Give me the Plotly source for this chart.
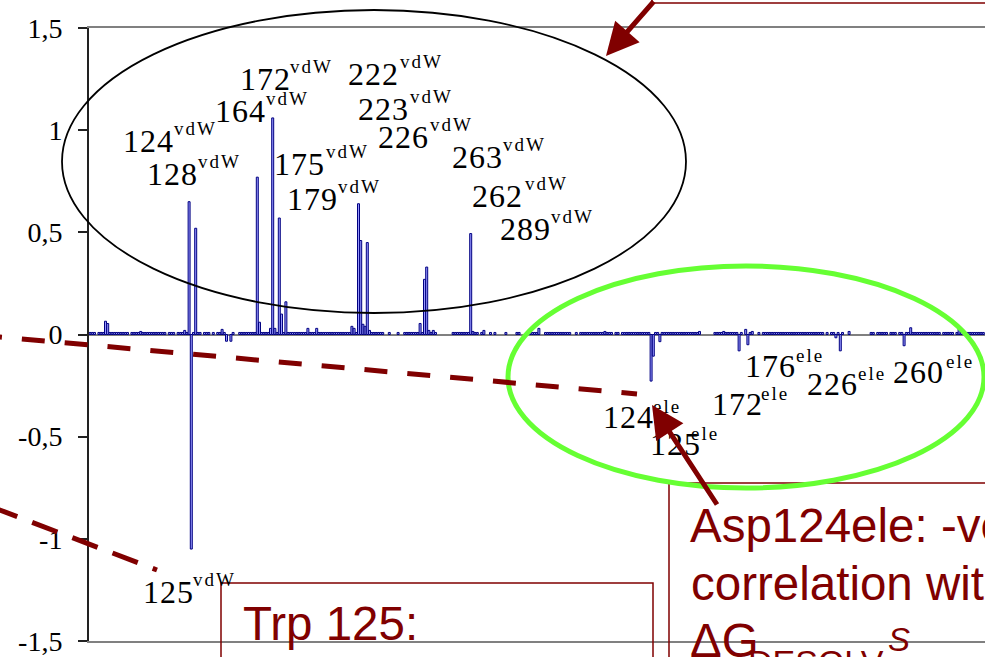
import plotly.graph_objects as go

# ------------------------------------------------------------------
# DATA : per-residue energy contributions (vdW block, then ele block)
# one value per slot along the x axis (0 = no bar drawn)
# ------------------------------------------------------------------
values = [
    0.01, 0.01, 0.01, 0, 0.01, 0.01, 0.01, 0.065, 0.054, 0.01, 0.01, 0.01, 0.01, 0.01, 0.01, 0.01, 0.01, 0.01, 0, 0.01,
    0.01, 0.01, 0.01, 0.015, 0.01, 0.01, 0.01, 0.01, 0.01, 0.01, 0.01, 0.01, 0.01, 0.01, 0.01, 0, 0.01, 0.01, 0.01, 0,
    0.01, 0.01, 0.01, 0.02, 0.01, 0.65, -1.05, 0.01, 0.52, 0.01, 0.01, 0, 0.01, 0.01, 0.01, 0, 0.01, 0, 0.01, 0.01,
    0.025, 0.01, -0.033, 0, -0.033, 0.01, 0, 0, 0.01, 0.01, 0.01, 0.01, 0.01, 0.01, 0.01, 0.01, 0.77, 0.06, 0.01, 0.01,
    0.01, 0.01, 0.03, 1.06, 0.03, 0.01, 0.57, 0.10, 0.01, 0.16, 0.01, 0.01, 0.01, 0.01, 0.01, 0.01, 0.01, 0.01, 0.01, 0.03,
    0.01, 0.01, 0.01, 0.03, 0.01, 0.01, 0.01, 0.01, 0.01, 0.01, 0.01, 0.01, 0.01, 0.01, 0.01, 0.01, 0.01, 0.01, 0.01, 0.04,
    0.03, 0.01, 0.64, 0.46, 0.05, 0.04, 0.45, 0.02, 0.01, 0.01, 0.01, 0.01, 0.01, 0.01, 0, 0, 0.01, 0, 0, 0,
    0.01, 0, 0, 0.01, 0.01, 0.01, 0.01, 0.01, 0.01, 0.01, 0.054, 0.01, 0.27, 0.33, 0.02, 0.01, 0.02, 0.01, 0, 0,
    0, 0, 0, 0, 0, 0.01, 0.01, 0.01, 0.01, 0.01, 0.01, 0.01, 0.01, 0.494, 0.015, 0.01, 0.01, 0, 0.01, 0.02,
    0, 0, 0.01, 0, 0.01, 0, 0, 0, 0, 0.01, 0, 0, 0, 0, 0.01, 0.01, 0, 0, 0, 0.01,
    0.01, 0.01, 0.01, 0.01, 0.03, 0, 0, 0.01, 0.01, 0.01, 0.01, 0.01, 0.01, 0.01, 0.01, 0.01, 0.01, 0.01, 0.01, 0,
    0, 0.01, 0, 0.01, 0.01, 0.01, 0.01, 0.01, 0.01, 0.01, 0.01, 0.01, 0.01, 0.01, 0.015, 0.01, 0.01, 0.01, 0, 0.01,
    0.01, 0, 0.01, 0.01, 0.01, 0.01, 0.01, 0.01, 0.01, 0.01, 0.01, 0.01, 0.01, 0.01, 0.01, -0.228, -0.106, 0.01, 0.01, -0.035,
    0.01, 0.01, 0.01, 0.01, 0.01, 0.01, 0.01, 0.01, 0.01, 0.01, 0.01, 0.01, 0.01, 0.01, 0.01, 0.01, 0.01, 0.015, 0, 0,
    0, 0, 0, 0, 0.01, 0.01, 0.01, 0.01, 0.015, 0.01, 0.01, 0.01, 0.01, 0.01, 0.01, -0.08, 0.01, 0, 0.025, -0.05,
    0.01, 0.015, 0, 0, 0.01, 0, 0.01, 0.01, 0.01, 0.01, 0.01, 0.01, 0.01, 0.01, 0.01, 0.01, 0.01, 0.01, 0.01, 0.01,
    0.01, 0.01, 0.01, 0.01, 0.01, 0.01, 0.01, 0.01, 0.01, 0.01, 0.01, 0.01, 0.01, 0.01, 0, 0.01, 0, 0.01, 0.01, -0.016,
    0.01, -0.08, 0.01, 0, 0, 0.015, 0, 0, 0, 0, 0, 0, 0, 0, 0, 0.01, 0.01, 0, 0.01, 0.01,
    0.01, 0.01, 0.01, 0, 0.01, 0.01, 0.01, 0, 0.01, 0.01, -0.055, 0.01, 0.01, 0.033, 0.01, 0.01, 0.01, 0.01, 0.01, 0.01,
    0.01, 0.01, 0.01, 0.01, 0.01, 0.01, 0.01, 0, 0.01, 0.01, 0.01, 0.01, 0.01, 0, 0.01, 0.033, 0.01, 0.01, 0.01, 0.01,
    0.01, 0.01, 0.01, 0.01, 0.01, 0.01, 0.01,
]
slots = list(range(len(values)))

y_tickvals = [-1.5, -1, -0.5, 0, 0.5, 1, 1.5]
y_ticktext = ["-1,5", "-1", "-0,5", "0", "0,5", "1", "1,5"]

vdw_label_texts = ["124", "128", "172", "164", "175", "179", "222", "223", "226", "263", "262", "289", "125"]
ele_label_texts = ["124", "125", "172", "176", "226", "260"]

# ------------------------------------------------------------------
# LAYOUT helpers (pixel -> paper)
# ------------------------------------------------------------------
W, H = 985, 657
ML, MR, MT, MB = 89, 0, 28, 16
PW, PH = W - ML - MR, H - MT - MB
SLOT_PX = 2.2


def X(px):
    return (px - ML) / PW


def Y(py):
    return (H - MB - py) / PH


DARKRED = "#800000"
SERIF = "Liberation Serif"
SANS = "Liberation Sans"

fig = go.Figure()
fig.add_trace(go.Bar(
    x=slots,
    y=[v if v != 0 else None for v in values],
    width=0.9,
    marker=dict(color="#9999FF", line=dict(color="#000080", width=1)),
    hoverinfo="skip",
))

fig.update_layout(
    width=W, height=H,
    margin=dict(l=ML, r=MR, t=MT, b=MB, pad=0),
    plot_bgcolor="white", paper_bgcolor="white",
    showlegend=False,
    xaxis=dict(range=[-0.5, -0.5 + PW / SLOT_PX], showticklabels=False, ticks="",
               showgrid=False, zeroline=False, showline=True, mirror=True,
               linecolor="#808080", linewidth=1.5),
    yaxis=dict(range=[-1.5, 1.5], tickvals=y_tickvals, ticktext=y_ticktext,
               ticks="outside", ticklen=9, tickwidth=1.5, tickcolor="#222222",
               ticklabelstandoff=10,
               tickfont=dict(family=SERIF, size=28, color="black"),
               showgrid=False, zeroline=True, zerolinecolor="#808080", zerolinewidth=1.5,
               showline=True, linecolor="#222222", linewidth=2),
)

# ------------------------------------------------------------------
# shapes: boxes, ellipses, dashed leader lines
# ------------------------------------------------------------------
def rect(x0, y0, x1, y1, color, width):
    fig.add_shape(type="rect", xref="paper", yref="paper",
                  x0=X(x0), x1=X(x1), y0=Y(y1), y1=Y(y0),
                  line=dict(color=color, width=width), fillcolor="rgba(0,0,0,0)")


def ellipse(x0, y0, x1, y1, color, width):
    fig.add_shape(type="circle", xref="paper", yref="paper",
                  x0=X(x0), x1=X(x1), y0=Y(y1), y1=Y(y0),
                  line=dict(color=color, width=width))


def seg(x0, y0, x1, y1, color, width, dash):
    fig.add_shape(type="line", xref="paper", yref="paper",
                  x0=X(x0), y0=Y(y0), x1=X(x1), y1=Y(y1),
                  line=dict(color=color, width=width, dash=dash))


rect(652, -60, 1010, 3, DARKRED, 1.5)          # top-right box
rect(221, 583, 653, 720, DARKRED, 1.5)         # Trp 125 box
rect(669, 483, 1010, 720, DARKRED, 1.5)        # Asp124ele box
ellipse(62, 10, 686, 313, "black", 1.8)        # vdW ellipse
ellipse(508, 266, 984, 488, "#66FF33", 5)      # ele ellipse
seg(-21, 335.1, 637, 394, DARKRED, 5, "23px,20px")
seg(-8, 507, 157, 570, DARKRED, 5, "27px,16px")


# ------------------------------------------------------------------
# text labels
# ------------------------------------------------------------------
def text_at(txt, x_left, baseline, size, family, color="black", asc=0.891):
    fig.add_annotation(xref="paper", yref="paper", x=X(x_left), y=Y(baseline - asc * size),
                       xanchor="left", yanchor="top", text=txt, showarrow=False,
                       borderpad=0, borderwidth=0,
                       font=dict(family=family, size=size, color=color))


vdw_pos = [(123, 152, 176), (147, 185, 200), (240, 90, 292), (215, 122, 268), (274, 175, 328),
           (287, 210, 340), (348, 85, 402), (358, 120, 412), (378, 148, 432), (452, 168, 505),
           (472, 207, 527), (500, 240, 553), (143, 603, 195)]
ele_pos = [(603, 428, 655), (650, 455, 693), (712, 415, 763), (745, 377, 798),
           (807, 395, 860), (893, 383, 948)]

for t, (xl, bl, xs) in zip(vdw_label_texts, vdw_pos):
    text_at('<span style="letter-spacing:1px">' + t + '</span>', xl, bl, 32, SERIF)
    text_at('<span style="letter-spacing:2px">vdW</span>', xs - 2, bl - 17, 19, SERIF)
for t, (xl, bl, xs) in zip(ele_label_texts, ele_pos):
    text_at('<span style="letter-spacing:1px">' + t + '</span>', xl, bl, 32, SERIF)
    text_at('<span style="letter-spacing:2px">ele</span>', xs - 2, bl - 15, 19, SERIF)

text_at("Trp 125:", 243, 640, 47.5, SANS, DARKRED, 0.905)
text_at("Asp124ele: -ve", 690, 542, 47.5, SANS, DARKRED, 0.905)
text_at("correlation with", 691, 600, 47.5, SANS, DARKRED, 0.905)
text_at("ΔG", 690, 657, 47.5, SANS, DARKRED, 0.905)
text_at("DESOLV", 748, 674, 34, SANS, DARKRED, 0.905)
text_at("<i>S</i>", 888, 651, 33, SANS, DARKRED, 0.905)


# ------------------------------------------------------------------
# arrows
# ------------------------------------------------------------------
def arrow(hx, hy, tx, ty):
    fig.add_annotation(xref="paper", yref="paper", x=X(hx), y=Y(hy),
                       ax=tx - hx, ay=ty - hy, axref="pixel", ayref="pixel",
                       text="", showarrow=True, arrowhead=2, arrowsize=1.3,
                       arrowwidth=5, arrowcolor=DARKRED, standoff=0, startstandoff=0)


arrow(606, 56, 655, -4)
arrow(652, 405, 718, 506)

fig.write_html("out.html")
